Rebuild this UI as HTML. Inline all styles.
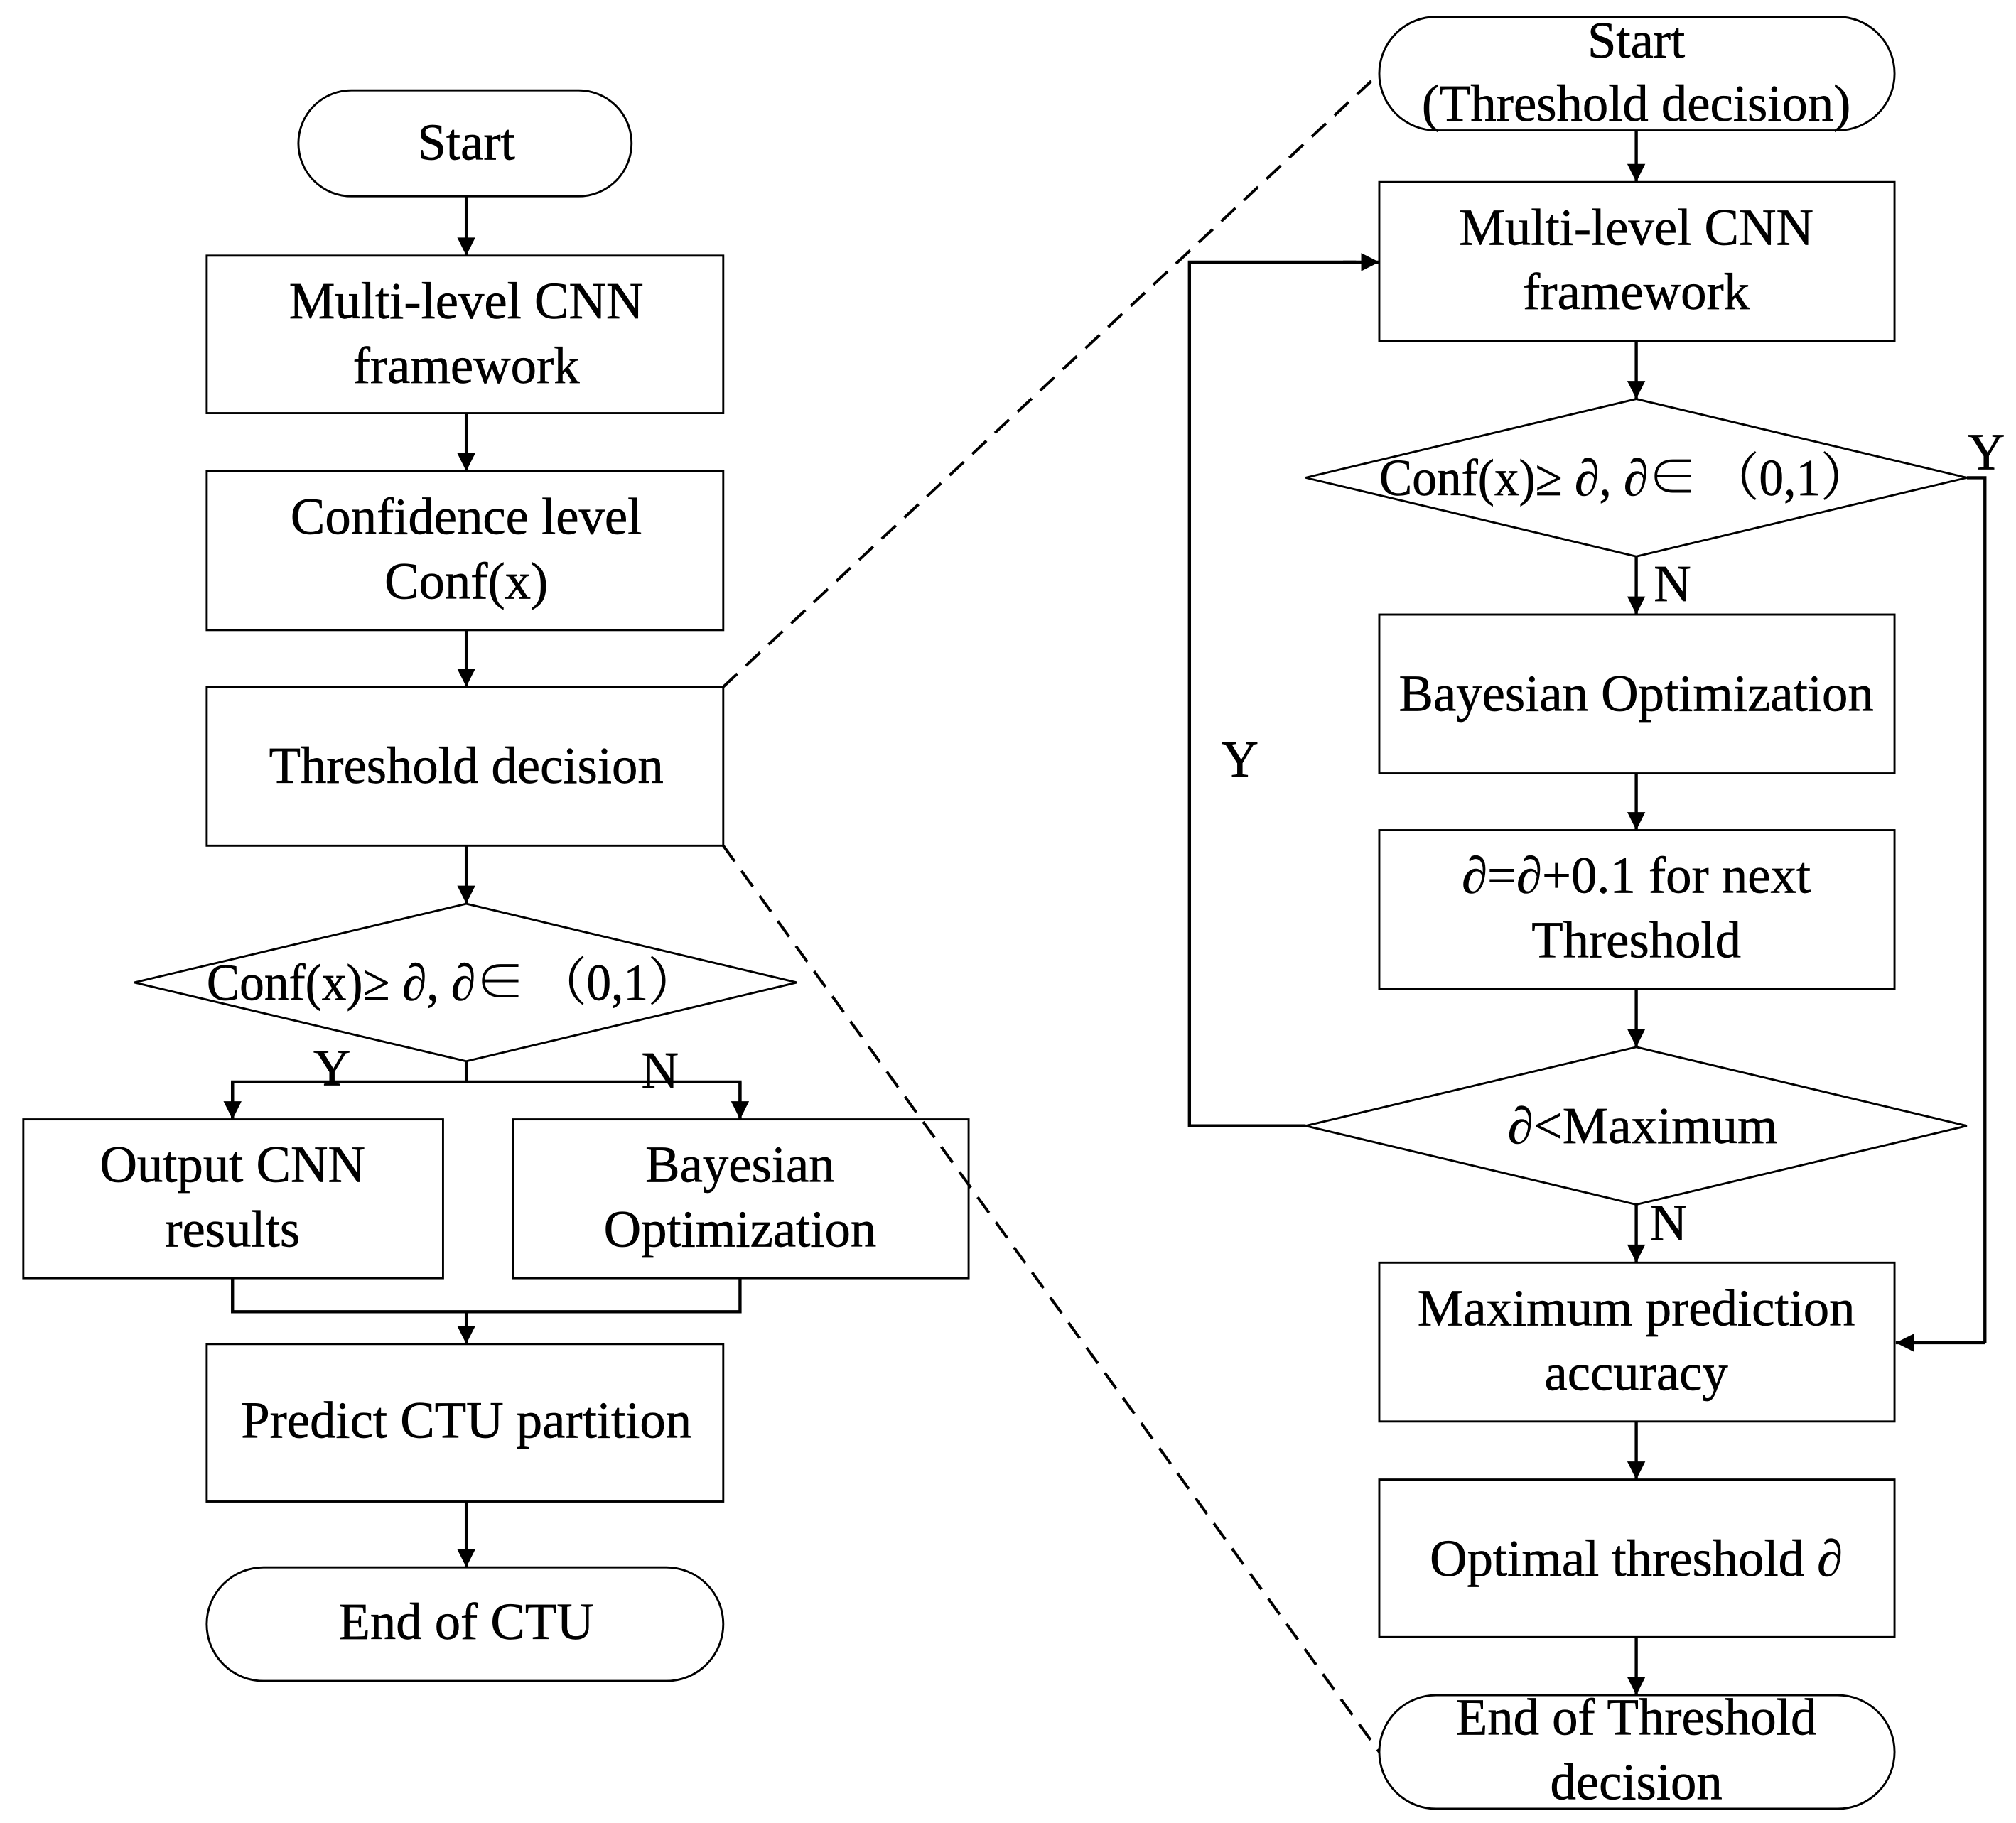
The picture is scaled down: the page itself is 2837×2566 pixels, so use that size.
<!DOCTYPE html>
<html><head><meta charset="utf-8"><style>
html,body{margin:0;padding:0;background:#fff;}
svg{display:block;}
text{font-family:"Liberation Serif","Noto Serif CJK SC",serif;font-size:40px;fill:#000;text-anchor:middle;dominant-baseline:central;stroke:#000;stroke-width:0.35;}
.s{fill:none;stroke:#000;stroke-width:1.6;}
.l{fill:none;stroke:#000;stroke-width:2.4;}
.d{fill:none;stroke:#000;stroke-width:2.2;stroke-dasharray:15 9;}
</style></head><body>
<svg width="2837" height="2566" viewBox="0 0 1561 1412" xmlns="http://www.w3.org/2000/svg">
<defs>
<marker id="b" viewBox="0 0 10 10" refX="10" refY="5" markerWidth="15" markerHeight="14" orient="auto" markerUnits="userSpaceOnUse"><path d="M0,0 L10,5 L0,10 Z" fill="#000"/></marker></defs>
<rect width="1561" height="1412" fill="#fff"/>
<line class="d" x1="560" y1="532" x2="1068" y2="57"/>
<line class="d" x1="560" y1="655" x2="1068" y2="1357"/>
<!-- left -->
<rect class="s" x="231" y="70" width="258" height="82" rx="41"/><text x="361" y="110">Start</text>
<line class="l" x1="361" y1="152" x2="361" y2="198" marker-end="url(#b)"/>
<rect class="s" x="160" y="198" width="400" height="122" fill="#fff"/><text x="361" y="233">Multi-level CNN</text><text x="361" y="283">framework</text>
<line class="l" x1="361" y1="320" x2="361" y2="365" marker-end="url(#b)"/>
<rect class="s" x="160" y="365" width="400" height="123"/><text x="361" y="400">Confidence level</text><text x="361" y="450">Conf(x)</text>
<line class="l" x1="361" y1="488" x2="361" y2="532" marker-end="url(#b)"/>
<rect class="s" x="160" y="532" width="400" height="123" fill="#fff"/><text x="361" y="593">Threshold decision</text>
<line class="l" x1="361" y1="655" x2="361" y2="700" marker-end="url(#b)"/>
<polygon class="s" points="361,700 617,761 361,822 104,761"/>
<text x="350" y="761" textLength="380" lengthAdjust="spacingAndGlyphs">Conf(x)≥ ∂, ∂∈ （0,1）</text>
<polyline class="l" points="361,822 361,838"/>
<polyline class="l" points="180,867 180,838 573,838 573,867"/>
<line class="l" x1="180" y1="838" x2="180" y2="867" marker-end="url(#b)"/>
<line class="l" x1="573" y1="838" x2="573" y2="867" marker-end="url(#b)"/>
<text x="257" y="827">Y</text><text x="511" y="829">N</text>
<rect class="s" x="18" y="867" width="325" height="123"/><text x="180" y="902">Output CNN</text><text x="180" y="952">results</text>
<rect class="s" x="397" y="867" width="353" height="123"/><text x="573" y="902">Bayesian</text><text x="573" y="952">Optimization</text>
<polyline class="l" points="180,990 180,1016 573,1016 573,990"/>
<line class="l" x1="361" y1="1016" x2="361" y2="1041" marker-end="url(#b)"/>
<rect class="s" x="160" y="1041" width="400" height="122"/><text x="361" y="1100">Predict CTU partition</text>
<line class="l" x1="361" y1="1163" x2="361" y2="1214" marker-end="url(#b)"/>
<rect class="s" x="160" y="1214" width="400" height="88" rx="44"/><text x="361" y="1256">End of CTU</text>
<!-- right -->
<rect class="s" x="1068" y="13" width="399" height="88" rx="44" fill="#fff"/><text x="1267" y="31">Start</text><text x="1267" y="80">(Threshold decision)</text>
<line class="l" x1="1267" y1="101" x2="1267" y2="141" marker-end="url(#b)"/>
<rect class="s" x="1068" y="141" width="399" height="123"/><text x="1267" y="176">Multi-level CNN</text><text x="1267" y="226">framework</text>
<line class="l" x1="1267" y1="264" x2="1267" y2="309" marker-end="url(#b)"/>
<polygon class="s" points="1267,309 1523,370 1267,431 1011,370"/>
<text x="1258" y="370" textLength="380" lengthAdjust="spacingAndGlyphs">Conf(x)≥ ∂, ∂∈ （0,1）</text>
<text x="1538" y="350">Y</text>
<polyline class="l" points="1523,370 1537,370 1537,1040"/>
<line class="l" x1="1537" y1="1040" x2="1468" y2="1040" marker-end="url(#b)"/>
<text x="1295" y="452">N</text>
<line class="l" x1="1267" y1="431" x2="1267" y2="476" marker-end="url(#b)"/>
<rect class="s" x="1068" y="476" width="399" height="123"/><text x="1267" y="537">Bayesian Optimization</text>
<line class="l" x1="1267" y1="599" x2="1267" y2="643" marker-end="url(#b)"/>
<rect class="s" x="1068" y="643" width="399" height="123"/><text x="1267" y="678">∂=∂+0.1 for next</text><text x="1267" y="728">Threshold</text>
<line class="l" x1="1267" y1="766" x2="1267" y2="811" marker-end="url(#b)"/>
<polygon class="s" points="1267,811 1523,872 1267,933 1011,872"/>
<text x="1272" y="872">∂&lt;Maximum</text>
<polyline class="l" points="1011,872 921,872 921,203 1050,203"/>
<line class="l" x1="1040" y1="203" x2="1068" y2="203" marker-end="url(#b)"/>
<text x="960" y="588">Y</text>
<text x="1292" y="947">N</text>
<line class="l" x1="1267" y1="933" x2="1267" y2="978" marker-end="url(#b)"/>
<rect class="s" x="1068" y="978" width="399" height="123"/><text x="1267" y="1013">Maximum prediction</text><text x="1267" y="1063">accuracy</text>
<line class="l" x1="1267" y1="1101" x2="1267" y2="1146" marker-end="url(#b)"/>
<rect class="s" x="1068" y="1146" width="399" height="122"/><text x="1267" y="1207">Optimal threshold  ∂</text>
<line class="l" x1="1267" y1="1268" x2="1267" y2="1313" marker-end="url(#b)"/>
<rect class="s" x="1068" y="1313" width="399" height="88" rx="44" fill="#fff"/><text x="1267" y="1330">End of Threshold</text><text x="1267" y="1380">decision</text>
</svg>
</body></html>
